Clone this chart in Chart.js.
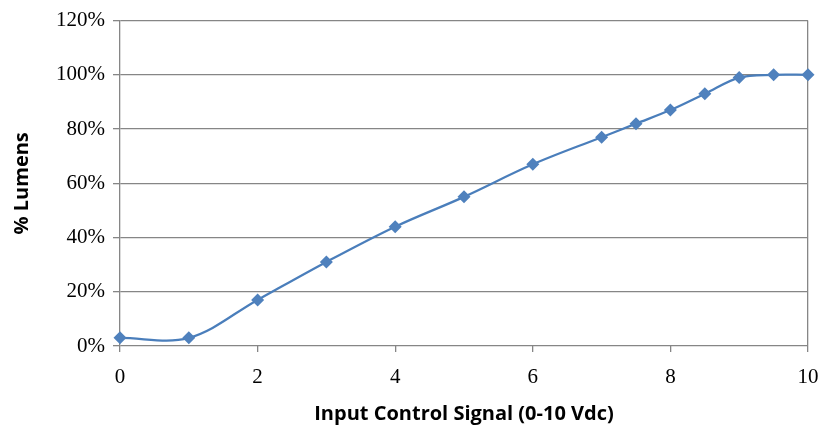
<!DOCTYPE html>
<html>
<head>
<meta charset="utf-8">
<script src="https://cdn.jsdelivr.net/npm/chart.js@4.4.1/dist/chart.umd.min.js"></script>
<style>
  html, body { margin: 0; padding: 0; background: #fff; }
  #wrap { width: 822px; height: 426px; }
</style>
</head>
<body>
<div id="wrap"><canvas id="lumens"></canvas></div>
<script>
// input signal (Vdc) and light output (% lumens)
const signalVdc = [0, 1, 2, 3, 4, 5, 6, 7, 7.5, 8, 8.5, 9, 9.5, 10];
const lumensPct = [3, 3, 17, 31, 44, 55, 67, 77, 82, 87, 93, 99, 100, 100];
const yTicks = [0, 20, 40, 60, 80, 100, 120];
const xTicks = [0, 2, 4, 6, 8, 10];

document.addEventListener('DOMContentLoaded', () => {
	let ctx = document.querySelector('#lumens');
	let tickFont = { family: 'Liberation Serif', size: 21 },
		titleFont = { family: 'Open Sans', size: 20, weight: 'bold' };

	new Chart(ctx, {
		type: 'line',
		data: {
			datasets: [{
				data: signalVdc.map((x, i) => ({ x: x, y: lumensPct[i] })),
				borderColor: '#4A7EBB',
				backgroundColor: '#4F81BD',
				borderWidth: 2.25,
				pointStyle: 'rectRot',
				pointRadius: 6.5,
				pointBorderWidth: 0,
				tension: 0.35,
				clip: false
			}]
		},
		options: {
			responsive: true,
			maintainAspectRatio: false,
			animation: false,
			layout: { padding: { top: 20, right: 14, left: 0, bottom: 0 } },
			plugins: { legend: { display: false }, tooltip: { enabled: false } },
			scales: {
				x: {
					type: 'linear',
					min: 0, max: 10,
					afterBuildTicks: axis => { axis.ticks = xTicks.map(v => ({ value: v })); },
					ticks: { font: tickFont, color: '#000', padding: 13, maxRotation: 0 },
					grid: {
						color: c => c.tick && c.tick.value === 10 ? '#868686' : 'rgba(0,0,0,0)',
						tickColor: '#868686',
						tickLength: 6,
						lineWidth: 1.3
					},
					border: { display: false },
					title: { display: true, text: 'Input Control Signal (0-10 Vdc)', font: titleFont, color: '#000', padding: { top: 4, bottom: 0 } },
					afterFit: s => { s.height = 80; s.paddingRight = 8; }
				},
				y: {
					min: 0, max: 120,
					afterBuildTicks: axis => { axis.ticks = yTicks.map(v => ({ value: v })); },
					ticks: { font: tickFont, color: '#000', padding: 8, callback: v => v + '%' },
					grid: { color: '#868686', tickColor: '#868686', tickLength: 7, lineWidth: 1.3 },
					border: { display: true, color: '#868686', width: 1.3 },
					title: { display: true, text: '% Lumens', font: titleFont, color: '#000', padding: { top: 10, bottom: 4 } },
					afterFit: s => { s.width = 120; }
				}
			}
		}
	});
});
</script>
</body>
</html>
